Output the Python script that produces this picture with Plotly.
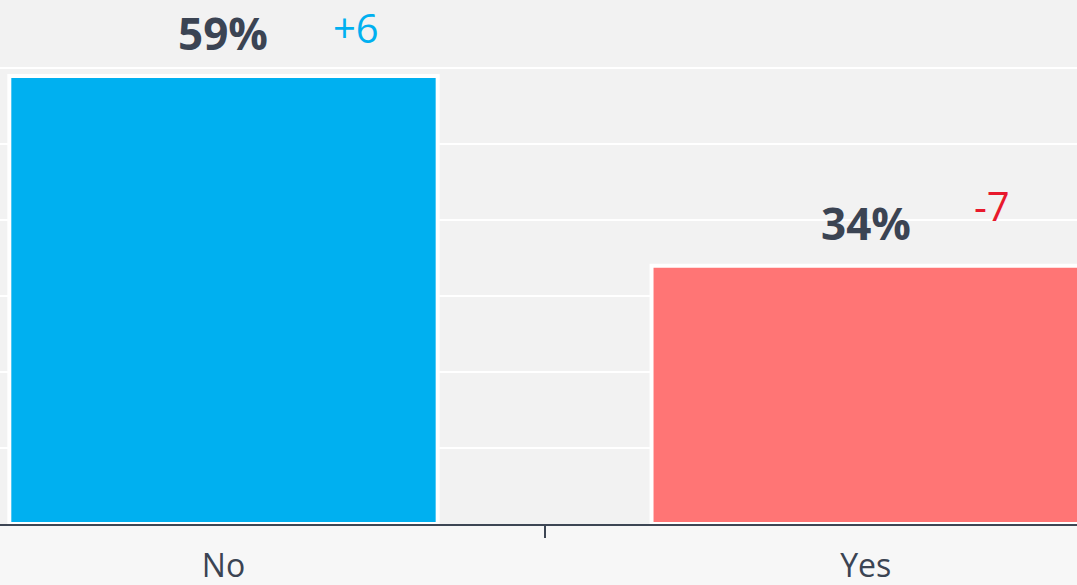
import plotly.graph_objects as go

# Survey answers and their share of respondents (%)
categories = ["No", "Yes"]
shares = [59, 34]
changes = ["+6", "-7"]

bar_colors = ["#00b0f0", "#ff7575"]
change_colors = ["#00b0f0", "#e8192c"]
text_dark = "#3b4453"

fig = go.Figure(
    go.Bar(
        x=categories,
        y=shares,
        marker=dict(color=bar_colors, line=dict(color="white", width=4)),
        width=0.667,
        hoverinfo="skip",
    )
)

# Value labels above each bar, with the change shown to the right
for cat, val, chg, col in zip(categories, shares, changes, change_colors):
    fig.add_annotation(
        x=cat, y=val, xref="x", yref="y",
        text=f"<b>{val}%</b>", showarrow=False,
        yanchor="middle", yshift=43,
        font=dict(family="Open Sans", size=44, color=text_dark),
    )
    fig.add_annotation(
        x=cat, y=val, xref="x", yref="y",
        text=chg, showarrow=False,
        xanchor="left", xshift=108 if chg.startswith("+") else 106,
        yanchor="middle", yshift=48 if chg.startswith("+") else 60,
        font=dict(family="Open Sans", size=40, color=col),
    )

fig.update_layout(
    width=1077, height=585,
    margin=dict(l=0, r=0, t=0, b=61, autoexpand=False),
    paper_bgcolor="#f7f7f7",
    plot_bgcolor="#f2f2f2",
    showlegend=False,
    xaxis=dict(
        range=[-0.348, 1.329],
        showgrid=False,
        automargin=False,
        showline=True, linecolor="#3d4654", linewidth=2,
        ticks="outside", tickson="boundaries", ticklen=12,
        tickcolor="#3d4654", tickwidth=2,
        ticklabelstandoff=13,
        tickfont=dict(family="Open Sans", size=32, color=text_dark),
        fixedrange=True,
    ),
    yaxis=dict(
        range=[0, 69.0],
        dtick=10,
        automargin=False,
        showgrid=True, gridcolor="white", gridwidth=2,
        zeroline=False,
        showticklabels=False,
        fixedrange=True,
    ),
)

fig.write_html("out.html")
